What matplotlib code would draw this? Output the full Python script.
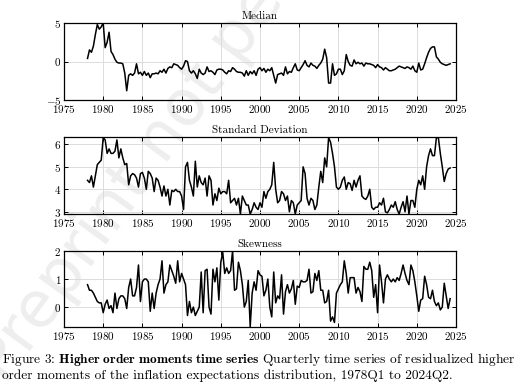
import numpy as np
import matplotlib
matplotlib.use("Agg")
import matplotlib.pyplot as plt

plt.rcParams['font.family'] = 'cmr10'
plt.rcParams['mathtext.fontset'] = 'cm'
plt.rcParams['axes.formatter.use_mathtext'] = True
plt.rcParams['axes.unicode_minus'] = False

start_year = 1978
median = [
    0.4, 1.5, 1.2, 2.0,      # 1978
    3.5, 4.8, 4.2, 4.5,      # 1979
    5.0, 1.8, 2.5, 3.8,      # 1980
    1.3, 0.9, 0.3, -0.1,     # 1981
    -0.2, -0.2, -0.3, -1.5,  # 1982
    -3.8, -1.8, -1.6, -1.8,  # 1983
    -1.5, -0.3, -1.6, -1.4,  # 1984
    -1.8, -1.3, -1.8, -1.5,  # 1985
    -2.1, -1.6, -1.6, -1.5,  # 1986
    -1.6, -1.2, -1.4, -1.0,  # 1987
    -1.5, -0.9, -0.7, -0.8,  # 1988
    -0.3, -0.4, -0.5, -0.8,  # 1989
    -1.0, -0.6, 0.1, 0.0,    # 1990
    -1.2, -1.5, -1.2, -1.6,  # 1991
    -2.2, -1.0, -1.5, -1.7,  # 1992
    -1.5, -0.7, -1.3, -1.2,  # 1993
    -1.4, -1.7, -1.1, -1.0,  # 1994
    -1.0, -1.1, -1.4, -1.6,  # 1995
    -1.2, -1.3, -0.8, -1.0,  # 1996
    -1.3, -1.4, -1.4, -1.5,  # 1997
    -1.9, -1.2, -1.8, -1.3,  # 1998
    -1.6, -1.2, -1.8, -1.0,  # 1999
    -0.8, -1.2, -0.9, -1.4,  # 2000
    -1.0, -1.2, -0.8, -1.8,  # 2001
    -2.8, -1.7, -1.6, -1.5,  # 2002
    -1.8, -0.7, -1.6, -1.3,  # 2003
    -1.4, -0.8, -0.3, -1.1,  # 2004
    -1.2, -0.8, -0.4, 0.1,   # 2005
    -0.5, -0.7, -0.2, -0.5,  # 2006
    -0.6, -0.9, -0.5, -0.2,  # 2007
    0.3, 1.6, 0.5, -2.8,     # 2008
    -2.8, -0.3, -1.8, -1.6,  # 2009
    -1.0, -1.0, -1.7, -1.2,  # 2010
    0.9, 0.0, -0.5, -0.6,    # 2011
    0.2, -0.3, -0.1, -0.3,   # 2012
    -0.2, -0.6, -0.2, -0.3,  # 2013
    -0.3, -0.4, -0.5, -0.8,  # 2014
    -0.4, -0.7, -0.8, -1.1,  # 2015
    -0.8, -1.0, -1.2, -1.2,  # 2016
    -1.1, -1.0, -0.8, -0.6,  # 2017
    -0.7, -0.8, -0.9, -0.7,  # 2018
    -0.8, -1.0, -0.6, -1.2,  # 2019
    -1.4, -0.2, -1.1, -1.0,  # 2020
    -0.3, 0.5, 1.2, 1.7,     # 2021
    1.9, 1.9, 0.6, 0.3,      # 2022
    -0.1, -0.3, -0.4, -0.5,  # 2023
    -0.4, -0.3,              # 2024
]
std_dev = [
    4.4, 4.3, 4.6, 4.1,      # 1978
    4.6, 5.1, 5.2, 5.3,      # 1979
    6.3, 6.2, 5.6, 5.8,      # 1980
    5.6, 5.6, 5.7, 6.2,      # 1981
    5.4, 5.8, 5.4, 5.1,      # 1982
    5.15, 4.2, 4.6, 4.7,     # 1983
    4.65, 4.5, 4.1, 4.7,     # 1984
    4.75, 4.5, 4.0, 4.8,     # 1985
    4.7, 4.5, 3.9, 4.5,      # 1986
    4.4, 4.1, 3.7, 4.15,     # 1987
    3.7, 4.0, 3.3, 3.95,     # 1988
    3.9, 4.0, 3.9, 3.9,      # 1989
    3.7, 3.1, 5.0, 5.2,      # 1990
    4.4, 4.1, 3.7, 5.25,     # 1991
    4.1, 4.6, 4.3, 4.2,      # 1992
    4.5, 3.7, 4.6, 4.4,      # 1993
    3.3, 3.8, 3.5, 4.05,     # 1994
    3.8, 3.9, 3.9, 3.8,      # 1995
    4.4, 3.4, 3.5, 3.6,      # 1996
    3.3, 3.6, 2.9, 3.7,      # 1997
    3.5, 3.3, 3.3, 2.9,      # 1998
    3.1, 3.4, 3.2, 3.1,      # 1999
    3.4, 3.2, 3.9, 3.6,      # 2000
    3.9, 4.0, 4.2, 5.2,      # 2001
    4.0, 3.4, 3.5, 3.9,      # 2002
    3.8, 3.5, 3.7, 3.0,      # 2003
    3.5, 3.4, 2.9, 3.3,      # 2004
    3.4, 3.5, 5.0, 4.7,      # 2005
    3.6, 3.3, 3.6, 3.5,      # 2006
    3.1, 3.3, 4.1, 4.8,      # 2007
    4.3, 5.4, 5.0, 6.3,      # 2008
    6.1, 5.6, 5.0, 4.1,      # 2009
    4.0, 4.1, 4.4, 4.55,     # 2010
    4.0, 4.3, 4.25, 3.95,    # 2011
    4.4, 4.1, 4.4, 4.6,      # 2012
    3.7, 3.6, 3.55, 3.7,     # 2013
    4.0, 3.2, 3.1, 3.2,      # 2014
    3.2, 3.4, 3.3, 3.6,      # 2015
    3.0, 2.95, 3.1, 3.3,     # 2016
    3.2, 3.45, 3.1, 2.9,     # 2017
    3.2, 3.45, 3.0, 3.7,     # 2018
    2.9, 3.5, 3.5, 3.2,      # 2019
    4.0, 4.4, 4.2, 4.6,      # 2020
    4.0, 5.0, 5.5, 5.8,      # 2021
    5.5, 5.5, 6.3, 6.3,      # 2022
    5.6, 5.0, 4.35, 4.7,     # 2023
    4.9, 4.95,               # 2024
]
skewness = [
    0.8, 0.6, 0.6, 0.5,      # 1978
    0.35, 0.2, 0.15, 0.15,   # 1979
    -0.2, 0.1, 0.25, -0.05,  # 1980
    0.05, -0.2, 0.5, -0.05,  # 1981
    0.3, 0.4, 0.4, 0.3,      # 1982
    -0.05, 0.7, 1.0, 0.4,    # 1983
    0.4, 0.7, 1.5, 0.2,      # 1984
    0.9, 1.0, 1.0, 0.9,      # 1985
    -0.15, 0.5, -0.05, 0.5,  # 1986
    0.8, 1.0, 1.65, 0.5,     # 1987
    0.8, 0.9, 1.5, 1.3,      # 1988
    1.1, 0.85, 1.65, 0.9,    # 1989
    1.2, 1.0, 0.8, -0.3,     # 1990
    0.2, -0.2, 0.0, -0.3,    # 1991
    -0.15, 0.0, 1.25, -0.2,  # 1992
    1.3, 1.35, 0.0, -0.25,   # 1993
    1.35, 0.9, 1.4, 0.25,    # 1994
    1.6, 1.95, 1.2, 1.4,     # 1995
    1.2, 1.3, 2.0, 0.6,      # 1996
    0.65, 1.6, 1.3, 0.8,     # 1997
    0.0, 0.2, 0.95, -0.7,    # 1998
    0.5, 0.9, 0.6, 1.3,      # 1999
    1.15, 1.1, 0.4, 0.6,     # 2000
    1.0, 0.0, -0.35, 1.25,   # 2001
    0.15, 0.4, 0.3, 1.15,    # 2002
    -0.25, 0.55, 0.8, 0.5,   # 2003
    0.65, 0.95, 0.1, 0.75,   # 2004
    0.7, 0.95, 0.9, 0.9,     # 2005
    0.95, 1.35, 0.5, 0.55,   # 2006
    1.2, 0.95, 1.3, 0.6,     # 2007
    0.6, 0.15, 0.2, 0.6,     # 2008
    -0.5, -0.35, -0.55, 0.5, # 2009
    0.65, 0.8, 0.9, 1.65,    # 2010
    1.2, 0.5, 1.05, 1.05,    # 2011
    1.05, 0.5, 0.7, 0.55,    # 2012
    0.2, 1.45, 1.35, 1.35,   # 2013
    1.6, 1.3, 0.35, 0.8,     # 2014
    -0.2, 1.5, 0.9, 0.15,    # 2015
    1.0, 1.15, 1.0, 0.9,     # 2016
    1.0, 0.9, 1.05, 0.95,    # 2017
    1.2, 1.5, 1.2, 0.95,     # 2018
    0.8, 1.5, 1.3, 0.9,      # 2019
    0.4, -0.15, 0.25, 0.3,   # 2020
    1.1, 0.8, 0.35, 0.3,     # 2021
    0.6, 0.2, 0.05, 0.15,    # 2022
    -0.1, 0.0, 0.85, 0.4,    # 2023
    -0.05, 0.3,              # 2024
]

panel_titles = ["Median", "Standard Deviation", "Skewness"]
x_ticks = [1975, 1980, 1985, 1990, 1995, 2000, 2005, 2010, 2015, 2020, 2025]
y_ticks = [[-5, 0, 5], [3, 4, 5, 6], [0, 1, 2]]
y_limits = [(-5, 5), (2.9, 6.33), (-0.71, 2.0)]

series = [median, std_dev, skewness]
t = start_year + np.arange(len(median)) / 4.0

fig = plt.figure(figsize=(5.22, 3.85), dpi=100)
W, H = 522.0, 385.0
boxes = [(23, 100), (137, 214), (251, 327)]
left, right = 64, 456

# watermark behind everything
fig.text(0.03, -0.02, "Preprint not peer reviewed", rotation=54,
         rotation_mode='anchor', ha='left', va='bottom',
         fontsize=46, color='#eeeeee', family='DejaVu Sans', zorder=-5)

for i, (top, bot) in enumerate(boxes):
    ax = fig.add_axes([left / W, 1 - bot / H, (right - left) / W, (bot - top) / H])
    ax.set_facecolor('none')
    ax.plot(t, series[i], color='black', lw=1.1)
    ax.set_xlim(1975, 2025)
    ax.set_ylim(*y_limits[i])
    ax.set_xticks(x_ticks)
    ax.set_yticks(y_ticks[i])
    ax.grid(True, color='#dcdcdc', lw=0.7)
    ax.set_axisbelow(True)
    ax.tick_params(direction='in', top=True, right=True, length=3,
                   width=0.7, labelsize=8, pad=2, colors='black')
    for s in ax.spines.values():
        s.set_linewidth(0.9)
    ax.set_title(panel_titles[i], fontsize=8, pad=3)

fig.text(0.003, 1 - 359 / H,
         r"Figure 3: $\mathbf{Higher\ order\ moments\ time\ series}$ Quarterly time series of residualized higher",
         fontsize=9.62, ha='left', va='center')
fig.text(0.003, 1 - 376 / H,
         "order moments of the inflation expectations distribution, 1978Q1 to 2024Q2.",
         fontsize=9.62, ha='left', va='center')

fig.savefig("out.png", dpi=100)
